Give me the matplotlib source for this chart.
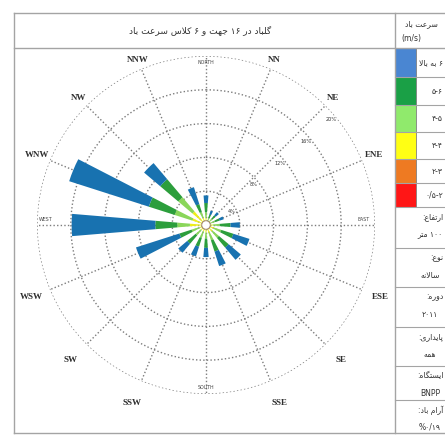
import re

import matplotlib.pyplot as plt
import numpy as np
from matplotlib.patches import Rectangle
from matplotlib.transforms import Bbox, TransformedBbox

# 16 sectors, clockwise from north
directions = ['N', 'NNE', 'NE', 'ENE', 'E', 'ESE', 'SE', 'SSE',
              'S', 'SSW', 'SW', 'WSW', 'W', 'WNW', 'NW', 'NNW']
dir_labels = ['', 'NN', 'NE', 'ENE', '', 'ESE', 'SE', 'SSE',
              '', 'SSW', 'SW', 'WSW', '', 'WNW', 'NW', 'NNW']

# frequency (%) of each speed class per sector
f_05_2 = [0.2, 0.1, 0.1, 0.1, 0.2, 0.2, 0.2, 0.2, 0.2, 0.2, 0.2, 0.2, 0.2, 0.2, 0.2, 0.2]
f_2_3 = [0.2, 0.2, 0.2, 0.2, 0.2, 0.3, 0.3, 0.3, 0.2, 0.2, 0.2, 0.2, 0.3, 0.3, 0.3, 0.2]
f_3_4 = [0.4, 0.2, 0.3, 0.3, 0.4, 0.5, 0.5, 0.5, 0.5, 0.4, 0.4, 0.4, 1.4, 1.2, 1.6, 0.5]
f_4_5 = [0.7, 0.4, 0.4, 0.5, 0.8, 0.9, 1.0, 0.9, 0.7, 0.8, 0.8, 1.0, 1.5, 2.2, 2.2, 0.7]
f_5_6 = [1.1, 0.4, 0.5, 0.6, 1.3, 1.5, 1.5, 1.4, 1.1, 1.1, 1.3, 1.5, 2.6, 3.2, 2.8, 1.0]
f_6up = [0.9, 0.5, 0.5, 0.5, 1.1, 2.0, 1.9, 1.8, 1.1, 1.2, 1.4, 5.4, 9.9, 9.9, 2.5, 2.1]
classes = [f_05_2, f_2_3, f_3_4, f_4_5, f_5_6, f_6up]

ring_values = [4, 8, 12, 16, 20]

title = 'گلباد در ۱۶ جهت و ۶ کلاس سرعت باد'
speed_header = 'سرعت باد'
speed_labels = ['۶ به بالا', '۵-۶', '۴-۵', '۳-۴', '۲-۳', '۰/۵-۲']
info_keys = ['ارتفاع:', 'نوع:', 'دوره:', 'پایداری:', 'ایستگاه:', 'آرام باد:']
info_values = ['۱۰۰ متر', 'سالانه', '۲۰۱۱', 'همه', 'BNPP', '%۰/۱۹']

bar_colors = ['#e8231f', '#e6761c', '#eeee1a', '#8ad65a', '#2c9e3c', '#1872b0']
swatch_colors = ['#4a86d2', '#1aa046', '#90ea6c', '#ffff14', '#ee7a22', '#ff1616']

# --- minimal Persian shaping (presentation forms + visual order) ---
FORMS = {
    'ا': '\uFE8D\uFE8E', 'آ': '\uFE81\uFE82', 'د': '\uFEA9\uFEAA',
    'ر': '\uFEAD\uFEAE', 'ز': '\uFEAF\uFEB0', 'و': '\uFEED\uFEEE',
    'ب': '\uFE8F\uFE90\uFE91\uFE92', 'پ': '\uFB56\uFB57\uFB58\uFB59',
    'ت': '\uFE95\uFE96\uFE97\uFE98', 'ج': '\uFE9D\uFE9E\uFE9F\uFEA0',
    'س': '\uFEB1\uFEB2\uFEB3\uFEB4', 'ش': '\uFEB5\uFEB6\uFEB7\uFEB8',
    'ع': '\uFEC9\uFECA\uFECB\uFECC', 'ف': '\uFED1\uFED2\uFED3\uFED4',
    'ک': '\uFB8E\uFB8F\uFB90\uFB91', 'گ': '\uFB92\uFB93\uFB94\uFB95',
    'ل': '\uFEDD\uFEDE\uFEDF\uFEE0', 'م': '\uFEE1\uFEE2\uFEE3\uFEE4',
    'ن': '\uFEE5\uFEE6\uFEE7\uFEE8', 'ه': '\uFEE9\uFEEA\uFEEB\uFEEC',
    'ی': '\uFBFC\uFBFD\uFBFE\uFBFF',
}


def shape(s):
    out = []
    prev_joins = False
    i = 0
    while i < len(s):
        c = s[i]
        if c not in FORMS:
            out.append(c)
            prev_joins = False
            i += 1
            continue
        if c == 'ل' and i + 1 < len(s) and s[i + 1] in 'اآ':
            lig = '\uFEFB\uFEFC' if s[i + 1] == 'ا' else '\uFEF5\uFEF6'
            out.append(lig[1] if prev_joins else lig[0])
            prev_joins = False
            i += 2
            continue
        f = FORMS[c]
        nxt = i + 1 < len(s) and s[i + 1] in FORMS
        if len(f) == 2:
            out.append(f[1] if prev_joins else f[0])
            prev_joins = False
        else:
            if prev_joins and nxt:
                out.append(f[3])
            elif prev_joins:
                out.append(f[1])
            elif nxt:
                out.append(f[2])
            else:
                out.append(f[0])
            prev_joins = nxt
        i += 1
    return ''.join(out)


def fa(s):
    parts = re.split(r'([0-9۰-۹A-Za-z/.%()\-]+)', shape(s))
    parts = [p if re.fullmatch(r'[0-9۰-۹A-Za-z/.%()\-]+', p) else p[::-1]
             for p in parts]
    return ''.join(parts[::-1])


W, H = 445, 436
fig = plt.figure(figsize=(W / 100, H / 100), dpi=100)

# table frame drawn in pixel coordinates
bg = fig.add_axes([0, 0, 1, 1])
bg.set_xlim(0, W)
bg.set_ylim(H, 0)
bg.axis('off')

lc = '#a4a4a4'
bg.plot([14, W], [13, 13], color=lc, lw=1)
bg.plot([14, W], [433, 433], color=lc, lw=1)
bg.plot([14, 14], [13, 433], color=lc, lw=1)
bg.plot([395, 395], [13, 433], color=lc, lw=1)
bg.plot([14, W], [48, 48], color=lc, lw=1)

row_edges = [48, 77, 105, 132, 159, 183, 207]
for k in range(6):
    y0, y1 = row_edges[k], row_edges[k + 1]
    bg.add_patch(Rectangle((395, y0), 21, y1 - y0, facecolor=swatch_colors[k],
                           edgecolor='#808080', lw=0.6))
    bg.plot([395, W], [y1, y1], color=lc, lw=0.8)
    t = bg.text(443, (y0 + y1) / 2, fa(speed_labels[k]), ha='right', va='center',
                fontsize=5.5, color='#333333', family='DejaVu Sans')
    t.set_clip_box(TransformedBbox(Bbox([[417, y0], [W, y1]]), bg.transData))

info_edges = [207, 248, 287, 327, 366, 400, 436]
for k in range(6):
    y0, y1 = info_edges[k], info_edges[k + 1]
    if y1 < H:
        bg.plot([395, W], [y1, y1], color=lc, lw=0.8)
    bg.text(443, y0 + 10, fa(info_keys[k]), ha='right', va='center',
            fontsize=5.5, color='#333333', family='DejaVu Sans')
    bg.text(430, y0 + 27, fa(info_values[k]), ha='center', va='center',
            fontsize=5.5, color='#333333', family='DejaVu Sans')

bg.text(200, 30, fa(title), ha='center', va='center', fontsize=6.5,
        color='#333333', family='DejaVu Sans')
bg.text(421, 24, fa(speed_header), ha='center', va='center', fontsize=5.5,
        color='#333333', family='DejaVu Sans')
bg.text(411, 39, '(m/s)', ha='center', va='center', fontsize=5.5,
        color='#333333', family='DejaVu Sans')

# wind rose, centre (206, 225) px, outer ring 169 px
cx, cy, R = 206, 225, 169
ax = fig.add_axes([(cx - R) / W, (H - cy - R) / H, 2 * R / W, 2 * R / H],
                  projection='polar')
ax.set_theta_zero_location('N')
ax.set_theta_direction(-1)
ax.set_ylim(0, 20)
ax.set_facecolor('none')
ax.axis('off')

theta = np.deg2rad(np.arange(16) * 22.5)
gc = '#7c7c7c'
circ = np.linspace(0, 2 * np.pi, 400)
for rv in ring_values:
    ax.plot(circ, np.full_like(circ, rv), color=gc, lw=1.0, dashes=(1, 1.6), zorder=1)
for th in theta:
    ax.plot([th, th], [0, 20], color=gc, lw=1.0, dashes=(1, 1.6), zorder=1)

width = np.deg2rad(9.5)
bottom = np.zeros(16)
for vals, col in zip(classes, bar_colors):
    ax.bar(theta, vals, width=width, bottom=bottom, color=col, edgecolor='none',
           zorder=3)
    bottom += np.array(vals)

ax.fill(circ, np.full_like(circ, 0.5), facecolor='white', edgecolor='#9a7a6a',
        lw=0.6, zorder=4)

# sector labels outside the outer ring
for th, lab in zip(theta, dir_labels):
    if lab:
        r_lab = 21.0 + 1.9 * (1 - np.cos(th)) / 2
        ax.text(th, r_lab, lab, ha='center', va='center', fontsize=6.5,
                fontweight='bold', family='Liberation Serif', color='#2e2e2e',
                clip_on=False)

# cardinal names just inside the outer ring
ax.text(0, 19.2, 'NORTH', ha='center', va='center', fontsize=3.4, color='#444444')
ax.text(np.pi, 19.2, 'SOUTH', ha='center', va='center', fontsize=3.4, color='#444444')
ax.text(np.deg2rad(88), 18.6, 'EAST', ha='center', va='center', fontsize=3.4, color='#444444')
ax.text(np.deg2rad(272), 19.0, 'WEST', ha='center', va='center', fontsize=3.4, color='#444444')

for rv in ring_values:
    ax.text(np.deg2rad(50 if rv > 4 else 62), rv - 0.6, f'{rv}%', ha='center',
            va='center', fontsize=3.6, color='#333333', zorder=5)

fig.savefig('out.png', dpi=100)
